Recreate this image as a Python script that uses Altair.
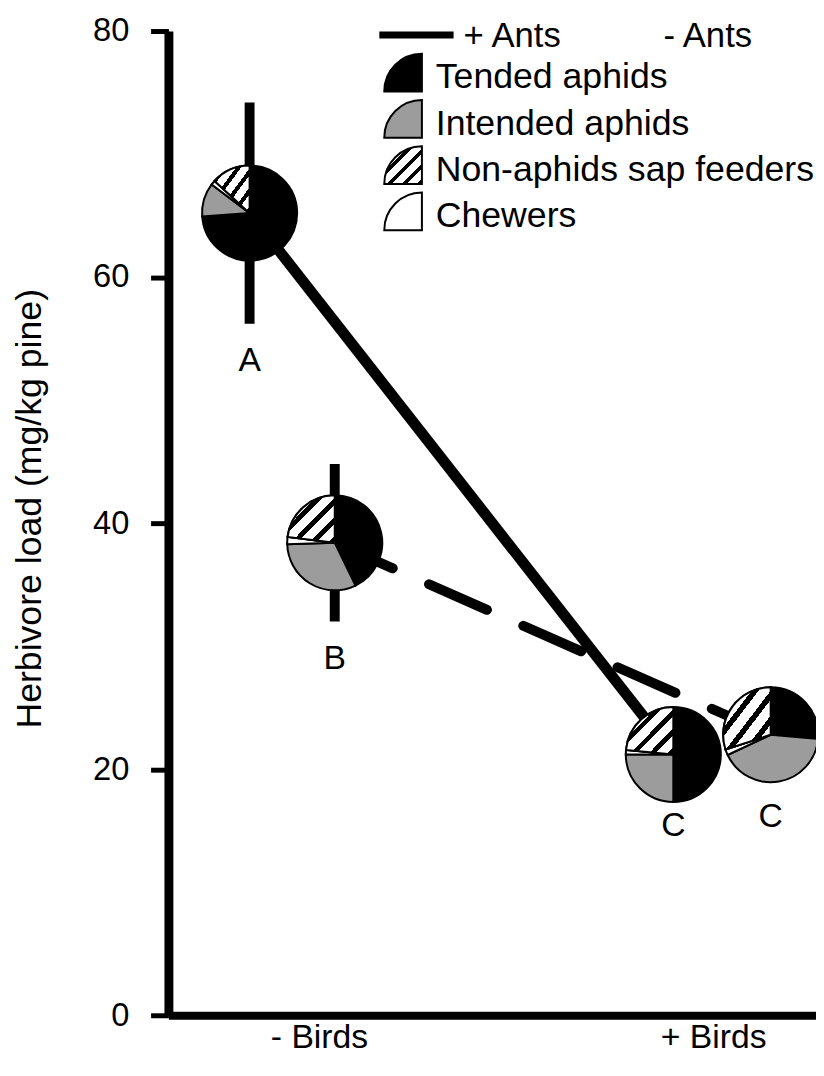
import math
import altair as alt
import pandas as pd

# ---------------- data ----------------
birds_labels = ["- Birds", "+ Birds"]          # x categories (1, 2)
ants_labels = ["+ Ants", "- Ants"]

pt_ants = ["+ Ants", "- Ants", "+ Ants", "- Ants"]
pt_x = [0.824, 1.040, 1.899, 2.146]              # dodged x position (1 = - Birds, 2 = + Birds)
pt_mean = [65.2, 38.4, 21.2, 22.8]               # herbivore load
pt_se = [9.0, 6.4, 2.8, 3.6]                     # error
pt_letter = ["A", "B", "C", "C"]

feeders = ["Tended aphids", "Intended aphids", "Non-aphids sap feeders", "Chewers"]
pie_order = ["Tended aphids", "Intended aphids", "Chewers", "Non-aphids sap feeders"]
share_tended = [73.9, 42.8, 50.0, 26.4]
share_intended = [11.4, 31.7, 25.0, 41.6]
share_chewers = [1.5, 2.5, 1.5, 2.0]
share_nonaphid = [13.2, 23.0, 23.5, 30.0]

y_ticks = [0, 20, 40, 60, 80]

# ---------------- tables ----------------
pts = pd.DataFrame({"pid": list(range(4)), "ants": pt_ants, "x": pt_x,
                    "mean": pt_mean, "se": pt_se, "letter": pt_letter})

shares = {"Tended aphids": share_tended, "Intended aphids": share_intended,
          "Chewers": share_chewers, "Non-aphids sap feeders": share_nonaphid}
rows = []
for i in range(4):
    for j, cat in enumerate(pie_order):
        rows.append({"pid": i, "x": pt_x[i], "mean": pt_mean[i], "cat": cat,
                     "ord": j, "share": shares[cat][i]})
pie_df = pd.DataFrame(rows)

# ---------------- styles ----------------
FONT = "Liberation Sans"
GRAY = "#9c9c9c"
BLACK = "#000000"
WHITE = "#ffffff"
PIE_R = 48

def hatch_gradient(n=5, frac=0.36):
    stops = []
    for k in range(n):
        a = k / n
        c = (k + 1) / n
        m = a + (1 - frac) / n
        stops += [{"offset": a, "color": WHITE}, {"offset": m, "color": WHITE},
                  {"offset": m, "color": BLACK}, {"offset": c, "color": BLACK}]
    return {"gradient": "linear", "x1": 0, "y1": 0, "x2": 1, "y2": 1, "stops": stops}

HATCH = hatch_gradient()

x_scale = alt.Scale(domain=[0.618, 2.261], nice=False, zero=False)
y_scale = alt.Scale(domain=[0, 80], nice=False, zero=True)

label_expr = "datum.value == 1 ? '%s' : '%s'" % (birds_labels[0], birds_labels[1])
x_axis = alt.Axis(values=[1, 2], labelExpr=label_expr, ticks=False, grid=False,
                  domainWidth=8, domainColor=BLACK, labelFontSize=34, labelFont=FONT,
                  labelColor=BLACK, labelPadding=6, title=None)
y_axis = alt.Axis(values=y_ticks, grid=False, domainWidth=9, domainColor=BLACK,
                  tickWidth=5, tickSize=18, tickColor=BLACK, labelFontSize=33,
                  labelFont=FONT, labelColor=BLACK, labelPadding=22,
                  title="Herbivore load (mg/kg pine)", titleFont=FONT, titleFontSize=36,
                  titleFontWeight="normal", titleColor=BLACK, titleX=-140, titleY=482,
                  titleAngle=270, titleBaseline="middle", titleAlign="center")

X = alt.X("x:Q", scale=x_scale, axis=x_axis)
Y = alt.Y("mean:Q", scale=y_scale, axis=y_axis)

base = alt.Chart(pts)

line_plus = base.transform_filter(alt.datum.ants == ants_labels[0]).mark_line(
    color=BLACK, strokeWidth=11).encode(x=X, y=Y)
line_minus = base.transform_filter(alt.datum.ants == ants_labels[1]).mark_line(
    color=BLACK, strokeWidth=10, strokeDash=[64, 40], strokeCap="round").encode(x=X, y=Y)

errbars = base.transform_calculate(
    lo="datum.mean - datum.se", hi="datum.mean + datum.se"
).mark_rule(color=BLACK, strokeWidth=10).encode(
    x=X, y=alt.Y("lo:Q", scale=y_scale), y2="hi:Q")

letters = base.transform_calculate(lo="datum.mean - datum.se").mark_text(
    font=FONT, fontSize=34, color=BLACK, baseline="middle", dy=38
).encode(x=X, y=alt.Y("lo:Q", scale=y_scale), text="letter:N")

pie_base = alt.Chart(pie_df).transform_joinaggregate(
    total="sum(share)", groupby=["pid"]
).transform_window(
    cum="sum(share)", sort=[alt.SortField("ord")], groupby=["pid"],
    frame=[None, 0]
).transform_calculate(
    t0="(datum.cum - datum.share) / datum.total * 2 * PI",
    t1="datum.cum / datum.total * 2 * PI")

pies = pie_base.mark_arc(outerRadius=PIE_R, stroke=BLACK, strokeWidth=2).encode(
    x=X, y=Y,
    theta=alt.Theta("t0:Q", scale=None, stack=False),
    theta2="t1:Q",
    fill=alt.Fill("cat:N", scale=alt.Scale(domain=pie_order, range=[BLACK, GRAY, WHITE, WHITE]),
                  legend=None))

hatch = pie_base.transform_filter(alt.datum.cat == "Non-aphids sap feeders").mark_arc(
    outerRadius=PIE_R, stroke=BLACK, strokeWidth=2, fill=HATCH).encode(
    x=X, y=Y, theta=alt.Theta("t0:Q", scale=None, stack=False), theta2="t1:Q")

# ---------------- legend (top right) ----------------
legend_layers = []
one = pd.DataFrame({"k": [0]})
legend_layers.append(alt.Chart(one).mark_rule(color=BLACK, strokeWidth=7).encode(
    x=alt.value(213), x2=alt.value(288), y=alt.value(4)))
for txt, xx in zip(ants_labels, [298, 500]):
    legend_layers.append(alt.Chart(pd.DataFrame({"t": [txt]})).mark_text(
        font=FONT, fontSize=35, color=BLACK, align="left", baseline="alphabetic").encode(
        x=alt.value(xx), y=alt.value(16), text="t:N"))

icon_fill = {"Tended aphids": BLACK, "Intended aphids": GRAY,
             "Non-aphids sap feeders": HATCH, "Chewers": WHITE}
for i, name in enumerate(feeders):
    ycorner = 61 + 46.7 * i
    ytext = 58 + 46.7 * i
    d = pd.DataFrame({"t": [name]})
    legend_layers.append(alt.Chart(d).mark_arc(
        outerRadius=38, theta=1.5 * math.pi, theta2=2 * math.pi,
        fill=icon_fill[name], stroke=BLACK, strokeWidth=2).encode(
        x=alt.value(256), y=alt.value(ycorner)))
    legend_layers.append(alt.Chart(d).mark_text(
        font=FONT, fontSize=36, color=BLACK, align="left", baseline="alphabetic").encode(
        x=alt.value(270), y=alt.value(ytext), text="t:N"))

chart = alt.layer(line_plus, line_minus, errbars, pies, hatch, letters, *legend_layers).properties(
    width=654, height=994,
    autosize=alt.AutoSizeParams(type="none"),
    padding={"left": 162, "top": 18, "right": 0, "bottom": 48},
    background=WHITE,
).configure_view(strokeWidth=0)

chart.save("out.html", embed_options={"renderer": "svg", "actions": False})
